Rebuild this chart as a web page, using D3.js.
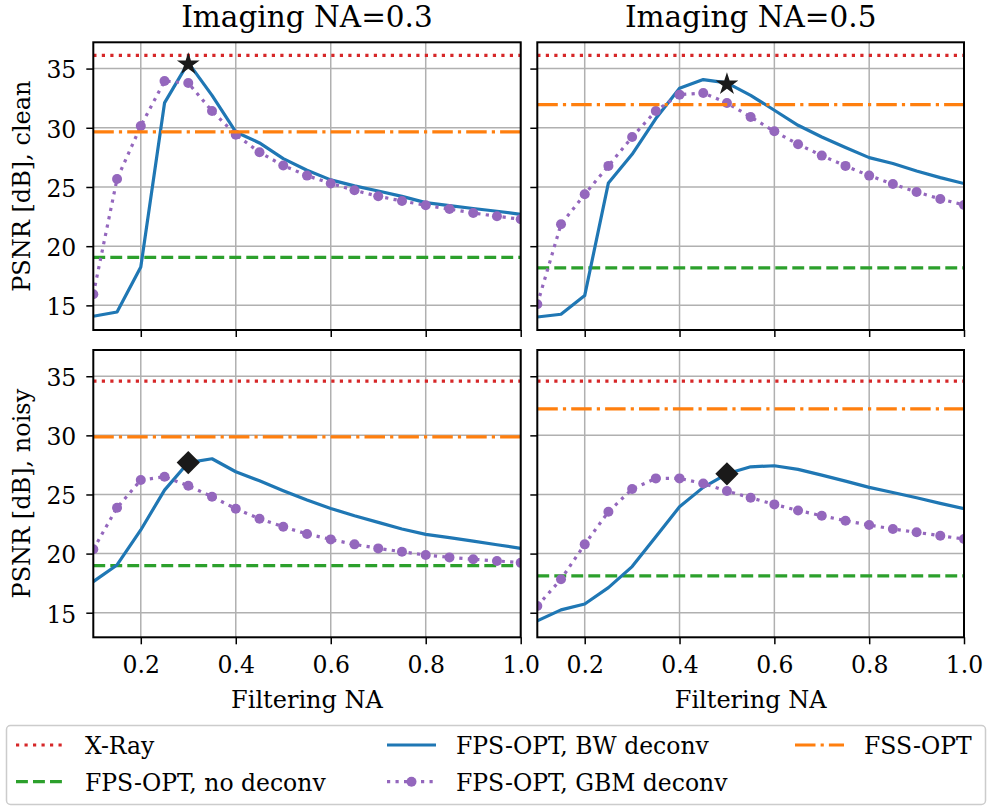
<!DOCTYPE html>
<html><head><meta charset="utf-8">
<script src="https://cdn.jsdelivr.net/npm/d3@7"></script>
<style>body{margin:0;background:#fff} svg{display:block} text{font-family:"DejaVu Serif",serif;fill:#000}</style>
</head><body><svg id="c" width="987" height="808"></svg>
<script>
// ---------- data ----------
const filteringNA = [0.1,0.15,0.2,0.25,0.3,0.35,0.4,0.45,0.5,0.55,0.6,0.65,0.7,0.75,0.8,0.85,0.9,0.95,1.0];
const xTicks = [0.2,0.4,0.6,0.8,1.0];
const yTicks = [15,20,25,30,35];
const imagingTitles = ["Imaging NA=0.3","Imaging NA=0.5"];
const rowLabels = ["PSNR [dB], clean","PSNR [dB], noisy"];

const bwClean03  = [14.08,14.44,18.24,32.1,35.5,32.74,29.65,28.72,27.4,26.41,25.6,25.09,24.66,24.21,23.68,23.43,23.18,22.95,22.69];
const gbmClean03 = [15.94,25.68,30.15,33.95,33.78,31.42,29.42,27.93,26.81,25.96,25.3,24.72,24.21,23.82,23.45,23.14,22.8,22.53,22.27];
const bwClean05  = [14.02,14.25,15.83,25.34,27.76,30.78,33.34,34.07,33.8,32.74,31.48,30.21,29.22,28.33,27.48,26.98,26.35,25.79,25.29];
const gbmClean05 = [15.1,21.85,24.38,26.78,29.22,31.42,32.8,32.94,32.1,30.91,29.7,28.61,27.65,26.78,25.96,25.25,24.58,23.99,23.48];
const bwNoisy03  = [17.63,19.04,22.0,25.37,27.7,28.02,26.92,26.16,25.32,24.53,23.82,23.2,22.64,22.08,21.63,21.35,21.06,20.75,20.44];
const gbmNoisy03 = [20.36,23.88,26.22,26.5,25.74,24.81,23.8,22.95,22.27,21.66,21.2,20.78,20.44,20.16,19.88,19.68,19.52,19.38,19.23];
const bwNoisy05  = [14.31,15.24,15.74,17.12,18.9,21.43,23.96,25.6,26.75,27.34,27.43,27.12,26.64,26.13,25.6,25.17,24.72,24.25,23.8];
const gbmNoisy05 = [15.57,17.83,20.78,23.54,25.46,26.36,26.36,25.93,25.29,24.72,24.16,23.65,23.2,22.78,22.42,22.08,21.8,21.51,21.23];

// order: clean NA0.3, clean NA0.5, noisy NA0.3, noisy NA0.5
const xrayLevel     = [36.12,36.12,34.58,34.58];
const noDeconvLevel = [19.06,18.16,18.98,18.11];
const fssLevel      = [29.65,31.96,29.88,32.24];
const bestNA        = [0.3,0.5,0.3,0.5];
const bestPSNR      = [35.5,33.8,27.7,26.75];

const legendLabels = ["X-Ray","FPS-OPT, no deconv","FPS-OPT, BW deconv","FPS-OPT, GBM deconv","FSS-OPT"];

// ---------- styles ----------
const C = {red:"#d62728", green:"#2ca02c", blue:"#1f77b4", purple:"#9467bd", orange:"#ff7f0e", grid:"#b0b0b0", mark:"#1a1a1a"};
const LW = 3.2;
const dash = {dotted:"3.2,5.3", dashed:"11.9,5.1", dashdot:"20.5,5.1,3.2,5.1"};
const FS_TICK = 23.5, FS_LABEL = 24, FS_TITLE = 29.5, FS_LEGEND = 23.5;
const MR = 5;

const svg = d3.select("#c");
const colX = [[93.3,520.7],[537.3,964]];
const rowY = [[42.3,330],[350,637.3]];
const yDomain = [12.92,37.22];
const xDomain = [0.1,1.0];

const bwSets  = [bwClean03,bwClean05,bwNoisy03,bwNoisy05];
const gbmSets = [gbmClean03,gbmClean05,gbmNoisy03,gbmNoisy05];

const defs = svg.append("defs");

for (let r=0;r<2;r++){
  for (let c=0;c<2;c++){
    const i = r*2+c;
    const x = d3.scaleLinear().domain(xDomain).range(colX[c]);
    const y = d3.scaleLinear().domain(yDomain).range([rowY[r][1],rowY[r][0]]);
    const g = svg.append("g");
    const w = colX[c][1]-colX[c][0], h = rowY[r][1]-rowY[r][0];

    defs.append("clipPath").attr("id","clip"+i).append("rect")
      .attr("x",colX[c][0]).attr("y",rowY[r][0]).attr("width",w).attr("height",h);

    // grid
    g.append("g").selectAll("line").data(xTicks).join("line")
      .attr("x1",d=>x(d)).attr("x2",d=>x(d)).attr("y1",rowY[r][0]).attr("y2",rowY[r][1])
      .attr("stroke",C.grid).attr("stroke-width",1.5);
    g.append("g").selectAll("line").data(yTicks).join("line")
      .attr("y1",d=>y(d)).attr("y2",d=>y(d)).attr("x1",colX[c][0]).attr("x2",colX[c][1])
      .attr("stroke",C.grid).attr("stroke-width",1.5);

    const plot = g.append("g").attr("clip-path","url(#clip"+i+")");
    const hline = (v,col,da)=>plot.append("line")
      .attr("x1",x(xDomain[0])).attr("x2",x(xDomain[1])).attr("y1",y(v)).attr("y2",y(v))
      .attr("stroke",col).attr("stroke-width",LW).attr("stroke-dasharray",da);
    hline(xrayLevel[i],C.red,dash.dotted);
    hline(noDeconvLevel[i],C.green,dash.dashed);

    const line = d3.line().x((d,k)=>x(filteringNA[k])).y(d=>y(d));
    plot.append("path").attr("d",line(bwSets[i])).attr("fill","none")
      .attr("stroke",C.blue).attr("stroke-width",LW).attr("stroke-linejoin","round");
    plot.append("path").attr("d",line(gbmSets[i])).attr("fill","none")
      .attr("stroke",C.purple).attr("stroke-width",LW).attr("stroke-dasharray",dash.dotted);
    plot.append("g").selectAll("circle").data(gbmSets[i]).join("circle")
      .attr("cx",(d,k)=>x(filteringNA[k])).attr("cy",d=>y(d)).attr("r",MR).attr("fill",C.purple);
    hline(fssLevel[i],C.orange,dash.dashdot);

    // best marker
    if (r===0){
      plot.append("path").attr("d",d3.symbol(d3.symbolStar,160)())
        .attr("transform",`translate(${x(bestNA[i])},${y(bestPSNR[i])+1.5})`).attr("fill",C.mark);
    } else {
      plot.append("path").attr("d",d3.symbol(d3.symbolSquare,270)())
        .attr("transform",`translate(${x(bestNA[i])},${y(bestPSNR[i])}) rotate(45)`).attr("fill",C.mark);
    }

    // axes
    const ax = g.append("g").attr("transform",`translate(${colX[c][0]},0)`)
      .call(d3.axisLeft(y).tickValues(yTicks).tickSize(7).tickPadding(10)
        .tickFormat(c===0?d3.format("d"):()=>""));
    const bx = g.append("g").attr("transform",`translate(0,${rowY[r][1]})`)
      .call(d3.axisBottom(x).tickValues(xTicks).tickSize(7).tickPadding(12)
        .tickFormat(r===1?d3.format(".1f"):()=>""));
    [ax,bx].forEach(a=>{
      a.select(".domain").remove();
      a.selectAll(".tick line").attr("stroke","#000").attr("stroke-width",1.5);
      a.selectAll(".tick text").attr("font-size",FS_TICK).attr("font-family","DejaVu Serif").attr("fill","#000");
    });
    ax.selectAll(".tick text").attr("dy","0.40em");

    // frame
    g.append("rect").attr("x",colX[c][0]).attr("y",rowY[r][0]).attr("width",w).attr("height",h)
      .attr("fill","none").attr("stroke","#000").attr("stroke-width",2);

    if (r===0){
      svg.append("text").attr("x",(colX[c][0]+colX[c][1])/2).attr("y",27)
        .attr("text-anchor","middle").attr("font-size",FS_TITLE).text(imagingTitles[c]);
    }
    if (r===1){
      svg.append("text").attr("x",(colX[c][0]+colX[c][1])/2).attr("y",708)
        .attr("text-anchor","middle").attr("font-size",FS_LABEL).text("Filtering NA");
    }
    if (c===0){
      const cy=(rowY[r][0]+rowY[r][1])/2;
      svg.append("text").attr("transform",`translate(30,${cy}) rotate(-90)`)
        .attr("text-anchor","middle").attr("font-size",FS_LABEL).text(rowLabels[r]);
    }
  }
}

// ---------- legend ----------
const lg = svg.append("g");
lg.append("rect").attr("x",6.5).attr("y",725.5).attr("width",979).attr("height",79)
  .attr("rx",4).attr("fill","#fff").attr("stroke","#cccccc").attr("stroke-width",1.5);
const handles = [
  {col:C.red, da:dash.dotted, x:16, y:745},
  {col:C.green, da:dash.dashed, x:16, y:781.7},
  {col:C.blue, da:null, x:387, y:745},
  {col:C.purple, da:dash.dotted, x:387, y:781.7, marker:true},
  {col:C.orange, da:dash.dashdot, x:795, y:745}
];
handles.forEach((hd,k)=>{
  lg.append("line").attr("x1",hd.x).attr("x2",hd.x+49).attr("y1",hd.y).attr("y2",hd.y)
    .attr("stroke",hd.col).attr("stroke-width",LW).attr("stroke-dasharray",hd.da);
  if (hd.marker) lg.append("circle").attr("cx",hd.x+24.5).attr("cy",hd.y).attr("r",MR).attr("fill",hd.col);
  lg.append("text").attr("x",hd.x+69).attr("y",hd.y+9).attr("font-size",FS_LEGEND).text(legendLabels[k]);
});
</script></body></html>
